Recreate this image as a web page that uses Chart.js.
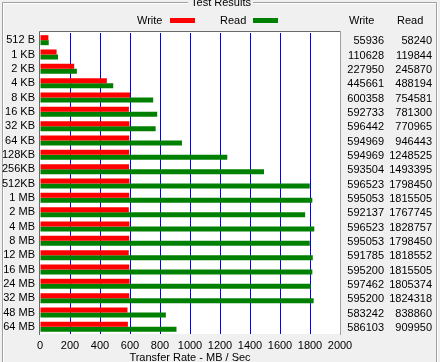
<!DOCTYPE html>
<html>
<head>
<meta charset="utf-8">
<script src="https://cdn.jsdelivr.net/npm/chart.js@4.4.1/dist/chart.umd.min.js"></script>
<style>
  html, body { margin: 0; padding: 0; background: #f0f0f0; }
  canvas { display: block; }
</style>
</head>
<body>
<canvas id="chart" width="440" height="362"></canvas>
<script>
// transfer sizes and results (KB/s, as listed in the table)
const sizes = ["512 B", "1 KB", "2 KB", "4 KB", "8 KB", "16 KB", "32 KB", "64 KB", "128KB", "256KB", "512KB",
  "1 MB", "2 MB", "4 MB", "8 MB", "12 MB", "16 MB", "24 MB", "32 MB", "48 MB", "64 MB"];
const writeKB = [55936, 110628, 227950, 445661, 600358, 592733, 596442, 594969, 594969, 593504, 596523,
  595053, 592137, 596523, 595053, 591785, 595200, 597462, 595200, 583242, 586103];
const readKB = [58240, 119844, 245870, 488194, 754581, 781300, 770965, 946443, 1248525, 1493395, 1798450,
  1815505, 1767745, 1828757, 1798450, 1818552, 1815505, 1805374, 1824318, 838860, 909950];

const font = { family: "'Liberation Sans', Arial, sans-serif", size: 11 };
const fontStr = "11px 'Liberation Sans', Arial, sans-serif";

// window look: group box, legend and the value table beside the plot
const decor = {
  id: 'decor',
  beforeDraw(chart) {
    const { ctx, chartArea: a } = chart;
    ctx.save();
    ctx.fillStyle = '#f0f0f0';
    ctx.fillRect(0, 0, chart.width, chart.height);
    ctx.fillStyle = '#ffffff';
    ctx.fillRect(a.left, a.top - 2, a.right - a.left, a.bottom - a.top + 2);

    // group box
    ctx.strokeStyle = '#a0a0a0';
    ctx.beginPath();
    ctx.moveTo(2.5, 362); ctx.lineTo(2.5, 2.5); ctx.lineTo(188, 2.5);
    ctx.moveTo(253, 2.5); ctx.lineTo(436.5, 2.5); ctx.lineTo(436.5, 362);
    ctx.stroke();
    ctx.strokeStyle = '#ffffff';
    ctx.beginPath();
    ctx.moveTo(3.5, 362); ctx.lineTo(3.5, 3.5); ctx.lineTo(188, 3.5);
    ctx.moveTo(253, 3.5); ctx.lineTo(435.5, 3.5);
    ctx.moveTo(437.5, 3); ctx.lineTo(437.5, 362);
    ctx.stroke();

    ctx.font = fontStr;
    ctx.fillStyle = '#000';
    ctx.textAlign = 'center';
    ctx.textBaseline = 'alphabetic';
    ctx.fillText('Test Results', 221, 6);
    ctx.restore();
  },
  afterDraw(chart) {
    const { ctx, chartArea: a } = chart;
    const y = chart.scales.y;
    ctx.save();
    // plot frame
    ctx.strokeStyle = '#696969';
    ctx.beginPath();
    ctx.moveTo(a.left - 0.5, a.bottom + 1); ctx.lineTo(a.left - 0.5, a.top - 1.5); ctx.lineTo(a.right + 0.5, a.top - 1.5);
    ctx.stroke();
    ctx.strokeStyle = '#a0a0a0';
    ctx.beginPath();
    ctx.moveTo(a.right + 0.5, a.top - 1.5); ctx.lineTo(a.right + 0.5, a.bottom + 1);
    ctx.stroke();

    // legend
    ctx.font = fontStr;
    ctx.fillStyle = '#000';
    ctx.textAlign = 'left';
    ctx.textBaseline = 'middle';
    ctx.fillText('Write', 137, 21);
    ctx.fillText('Read', 220, 21);
    ctx.fillStyle = '#ff0000';
    ctx.fillRect(170, 18, 25, 5);
    ctx.fillStyle = '#008000';
    ctx.fillRect(253, 18, 25, 5);

    // value table
    ctx.fillStyle = '#000';
    ctx.fillText('Write', 349, 21);
    ctx.fillText('Read', 397, 21);
    ctx.textAlign = 'right';
    sizes.forEach((s, i) => {
      const py = y.getPixelForValue(i) + 1;
      ctx.fillText(String(writeKB[i]), 384, py);
      ctx.fillText(String(readKB[i]), 432, py);
    });
    ctx.restore();
  }
};

new Chart(document.getElementById('chart'), {
  type: 'bar',
  data: {
    labels: sizes,
    datasets: [
      { label: 'Write', data: writeKB.map(v => v / 1000), backgroundColor: '#ff0000' },
      { label: 'Read', data: readKB.map(v => v / 1000), backgroundColor: '#008000' }
    ]
  },
  options: {
    indexAxis: 'y',
    responsive: false,
    animation: false,
    devicePixelRatio: 1,
    categoryPercentage: 0.7,
    barPercentage: 1.0,
    layout: { padding: { left: 0, top: 33, right: 100, bottom: 0 } },
    plugins: { legend: { display: false }, tooltip: { enabled: false } },
    scales: {
      x: {
        min: 0, max: 2000,
        ticks: { stepSize: 200, color: '#000', font: font, padding: 5, maxRotation: 0, autoSkip: false,
          callback: v => String(v) },
        grid: {
          drawTicks: false,
          color: c => (c.tick && (c.tick.value === 0 || c.tick.value === 2000)) ? 'rgba(0,0,0,0)' : '#0000ff'
        },
        border: { display: false },
        title: { display: true, text: 'Transfer Rate - MB / Sec', color: '#000', font: font, padding: { top: 0, bottom: -3 } },
        afterFit: s => { s.height = 28; }
      },
      y: {
        ticks: { color: '#000', font: font, padding: 5, autoSkip: false },
        grid: { display: false, drawTicks: false },
        border: { display: false },
        afterFit: s => { s.width = 40; }
      }
    }
  },
  plugins: [decor]
});
</script>
</body>
</html>
